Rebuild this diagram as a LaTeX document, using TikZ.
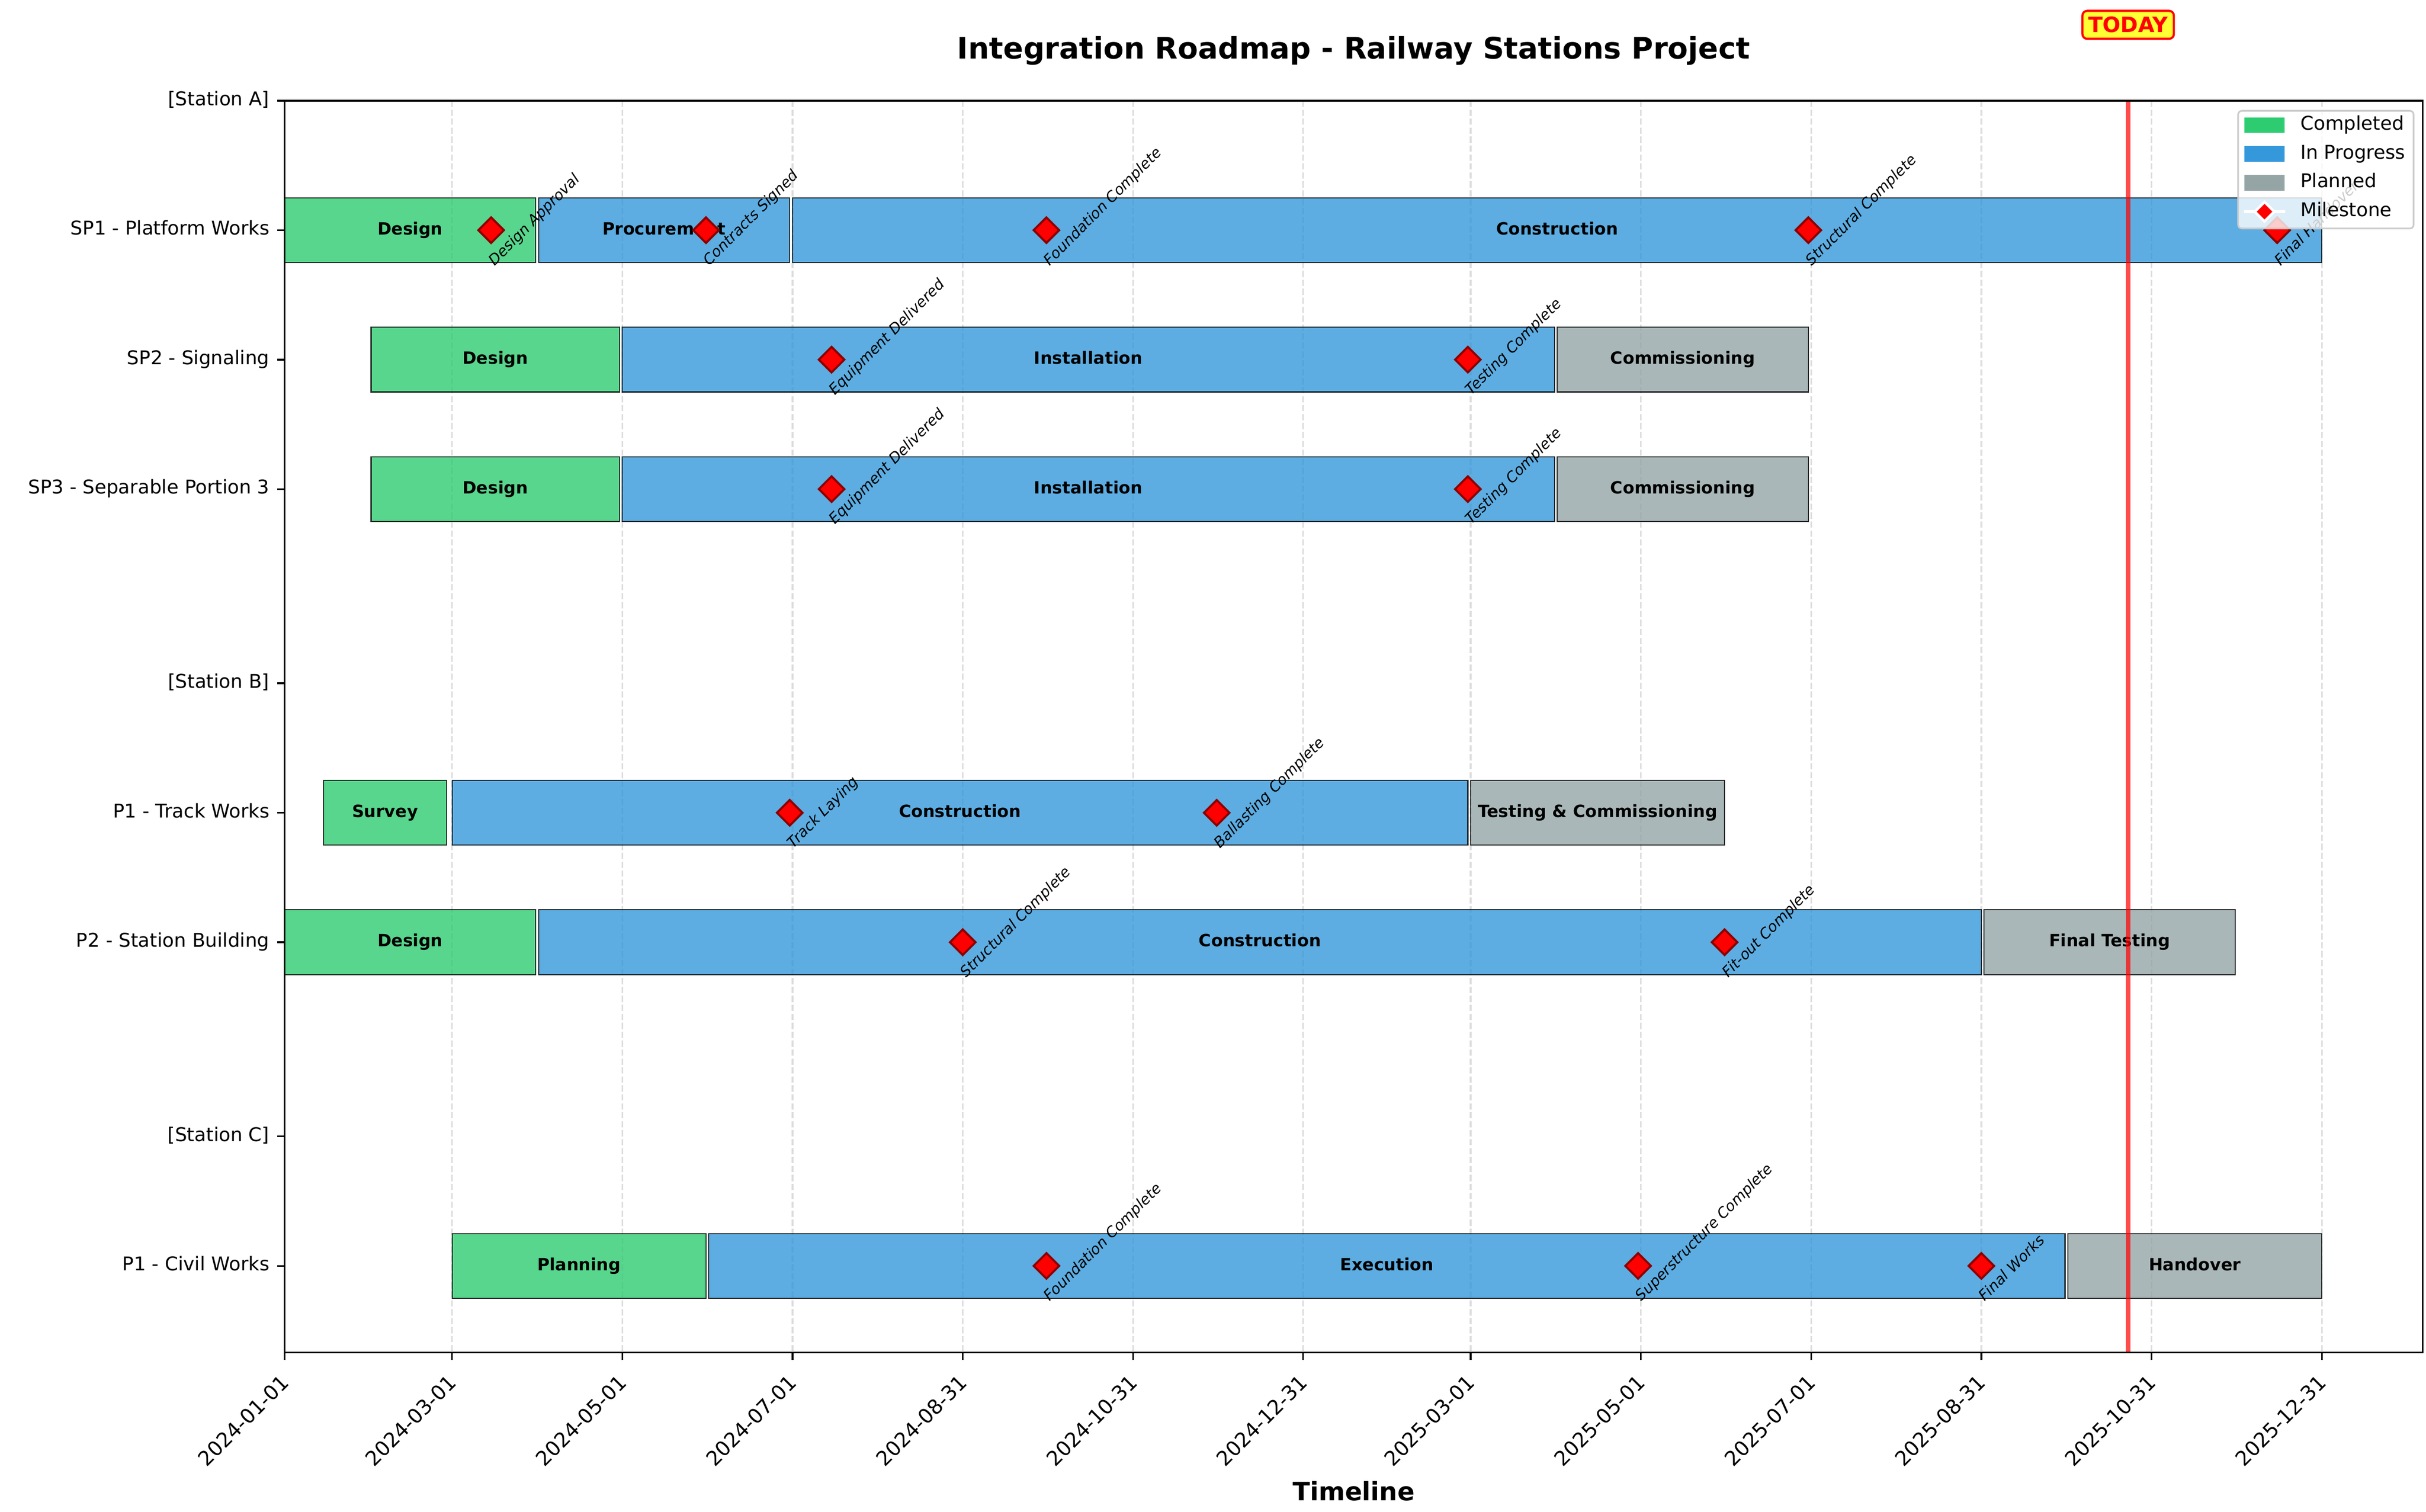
\documentclass[tikz,border=0pt]{standalone}
\usepackage{fontspec}
\setmainfont{DejaVu Sans}
\usetikzlibrary{shapes.geometric,positioning}
\definecolor{donegreen}{HTML}{2ECC71}
\definecolor{progblue}{HTML}{3498DB}
\definecolor{plangray}{HTML}{95A5A6}
\definecolor{gridgray}{HTML}{DDDDDD}
\definecolor{legendedge}{HTML}{CCCCCC}
\definecolor{msedge}{HTML}{8B0000}
\definecolor{todayfill}{HTML}{FFFF33}
\begin{document}
\begin{tikzpicture}[
            x=0.046458cm, y=-2.1553cm,
            done/.style={fill=donegreen, fill opacity=0.8, draw=black, draw opacity=0.8, line width=0.5pt},
            prog/.style={fill=progblue, fill opacity=0.8, draw=black, draw opacity=0.8, line width=0.5pt},
            plan/.style={fill=plangray, fill opacity=0.8, draw=black, draw opacity=0.8, line width=0.5pt},
            barlabel/.style={inner sep=0pt, text height=6.1pt, text depth=1.9pt, font=\bfseries\fontsize{8}{9.6}\selectfont},
            ms/.style={diamond, aspect=1, fill=red, draw=msedge, line width=1pt, inner sep=0pt, minimum width=0.44cm, minimum height=0.44cm},
            mslabel/.style={rotate=45, anchor=south west, inner sep=0pt, text depth=1.7pt, font=\itshape\fontsize{7}{8.4}\selectfont},
            ylab/.style={anchor=east, inner sep=0pt, text height=6.8pt, text depth=2.2pt, font=\fontsize{9}{10.8}\selectfont},
            xlab/.style={rotate=45, anchor=north east, inner sep=0pt, font=\fontsize{9.6}{11.5}\selectfont},
            gridline/.style={gridgray, line width=0.8pt, dash pattern=on 2.96pt off 1.28pt},
            axisline/.style={black, line width=0.8pt},
            todayline/.style={red, draw opacity=0.7, line width=2pt},
            todaybox/.style={fill=todayfill, draw=red, line width=1pt, rounded corners=0.08cm, text=red, inner sep=0.1cm, font=\bfseries\fontsize{10}{12}\selectfont},
            legendbox/.style={anchor=north east, draw=legendedge, line width=0.8pt, fill=white, fill opacity=0.8, rounded corners=0.06cm, minimum width=2.92cm, minimum height=1.957cm},
            lgpatch/.style={inner sep=0pt, minimum width=0.676cm, minimum height=0.26cm},
            lgtext/.style={inner sep=0pt, text height=6.8pt, text depth=2.2pt, font=\fontsize{9}{10.8}\selectfont},
            lgms/.style={diamond, aspect=1, fill=red, draw=white, line width=1.2pt, inner sep=0pt, minimum width=0.34cm, minimum height=0.34cm}
        ]
        \useasboundingbox (-101.98,-0.7778) rectangle (767.34,10.900);

        \foreach \d/\t [count=\i] in {0/2024-01-01, 60/2024-03-01, 121/2024-05-01, 182/2024-07-01, 243/2024-08-31, 304/2024-10-31, 365/2024-12-31, 425/2025-03-01, 486/2025-05-01, 547/2025-07-01, 608/2025-08-31, 669/2025-10-31, 730/2025-12-31} {
            \draw[gridline] (\d,0) -- (\d,9.67);
            \draw[axisline] (\d,9.67) -- ++(0pt,-3.5pt);
            \node[xlab] (xt\i) at ([xshift=-0.085cm,yshift=-0.34cm]\d,9.67) {\t};
        }

        \draw[done] (0,0.75) rectangle (90,1.25); \node[barlabel] (sp1a) at (45,1) {Design};
        \draw[prog] (91,0.75) rectangle (181,1.25); \node[barlabel] (sp1b) at (136,1) {Procurement};
        \draw[prog] (182,0.75) rectangle (730,1.25); \node[barlabel] (sp1c) at (456,1) {Construction};

        \draw[done] (31,1.75) rectangle (120,2.25); \node[barlabel] (sp2a) at (75.5,2) {Design};
        \draw[prog] (121,1.75) rectangle (455,2.25); \node[barlabel] (sp2b) at (288,2) {Installation};
        \draw[plan] (456,1.75) rectangle (546,2.25); \node[barlabel] (sp2c) at (501,2) {Commissioning};

        \draw[done] (31,2.75) rectangle (120,3.25); \node[barlabel] (sp3a) at (75.5,3) {Design};
        \draw[prog] (121,2.75) rectangle (455,3.25); \node[barlabel] (sp3b) at (288,3) {Installation};
        \draw[plan] (456,2.75) rectangle (546,3.25); \node[barlabel] (sp3c) at (501,3) {Commissioning};

        \draw[done] (14,5.25) rectangle (58,5.75); \node[barlabel] (bp1a) at (36,5.5) {Survey};
        \draw[prog] (60,5.25) rectangle (424,5.75); \node[barlabel] (bp1b) at (242,5.5) {Construction};
        \draw[plan] (425,5.25) rectangle (516,5.75); \node[barlabel] (bp1c) at (470.5,5.5) {Testing \& Commissioning};

        \draw[done] (0,6.25) rectangle (90,6.75); \node[barlabel] (bp2a) at (45,6.5) {Design};
        \draw[prog] (91,6.25) rectangle (608,6.75); \node[barlabel] (bp2b) at (349.5,6.5) {Construction};
        \draw[plan] (609,6.25) rectangle (699,6.75); \node[barlabel] (bp2c) at (654,6.5) {Final Testing};

        \draw[done] (60,8.75) rectangle (151,9.25); \node[barlabel] (cp1a) at (105.5,9) {Planning};
        \draw[prog] (152,8.75) rectangle (638,9.25); \node[barlabel] (cp1b) at (395,9) {Execution};
        \draw[plan] (639,8.75) rectangle (730,9.25); \node[barlabel] (cp1c) at (684.5,9) {Handover};

        \node[ms] (m1) at (74,1) {}; \node[mslabel] (m1t) at ([xshift=0.1cm,yshift=-0.65cm]m1.center) {Design Approval};
        \node[ms] (m2) at (151,1) {}; \node[mslabel] (m2t) at ([xshift=0.1cm,yshift=-0.65cm]m2.center) {Contracts Signed};
        \node[ms] (m3) at (273,1) {}; \node[mslabel] (m3t) at ([xshift=0.1cm,yshift=-0.65cm]m3.center) {Foundation Complete};
        \node[ms] (m4) at (546,1) {}; \node[mslabel] (m4t) at ([xshift=0.1cm,yshift=-0.65cm]m4.center) {Structural Complete};
        \node[ms] (m5) at (714,1) {}; \node[mslabel] (m5t) at ([xshift=0.1cm,yshift=-0.65cm]m5.center) {Final Handover};
        \node[ms] (m6) at (196,2) {}; \node[mslabel] (m6t) at ([xshift=0.1cm,yshift=-0.65cm]m6.center) {Equipment Delivered};
        \node[ms] (m7) at (424,2) {}; \node[mslabel] (m7t) at ([xshift=0.1cm,yshift=-0.65cm]m7.center) {Testing Complete};
        \node[ms] (m8) at (196,3) {}; \node[mslabel] (m8t) at ([xshift=0.1cm,yshift=-0.65cm]m8.center) {Equipment Delivered};
        \node[ms] (m9) at (424,3) {}; \node[mslabel] (m9t) at ([xshift=0.1cm,yshift=-0.65cm]m9.center) {Testing Complete};
        \node[ms] (m10) at (181,5.5) {}; \node[mslabel] (m10t) at ([xshift=0.1cm,yshift=-0.65cm]m10.center) {Track Laying};
        \node[ms] (m11) at (334,5.5) {}; \node[mslabel] (m11t) at ([xshift=0.1cm,yshift=-0.65cm]m11.center) {Ballasting Complete};
        \node[ms] (m12) at (243,6.5) {}; \node[mslabel] (m12t) at ([xshift=0.1cm,yshift=-0.65cm]m12.center) {Structural Complete};
        \node[ms] (m13) at (516,6.5) {}; \node[mslabel] (m13t) at ([xshift=0.1cm,yshift=-0.65cm]m13.center) {Fit-out Complete};
        \node[ms] (m14) at (273,9) {}; \node[mslabel] (m14t) at ([xshift=0.1cm,yshift=-0.65cm]m14.center) {Foundation Complete};
        \node[ms] (m15) at (485,9) {}; \node[mslabel] (m15t) at ([xshift=0.1cm,yshift=-0.65cm]m15.center) {Superstructure Complete};
        \node[ms] (m16) at (608,9) {}; \node[mslabel] (m16t) at ([xshift=0.1cm,yshift=-0.65cm]m16.center) {Final Works};

        \coordinate (todaytop) at (660.6,0);
        \coordinate (todaybot) at (660.6,9.67);
        \draw[todayline] (todaytop) -- (todaybot);
        \node[todaybox] (today) at (660.6,-0.586) {TODAY};

        \draw[axisline] (0,0) rectangle (766.2,9.67);
        \foreach \r/\t [count=\i] in {0/{[Station A]}, 1/SP1 - Platform Works, 2/SP2 - Signaling, 3/SP3 - Separable Portion 3, 4.5/{[Station B]}, 5.5/P1 - Track Works, 6.5/P2 - Station Building, 8/{[Station C]}, 9/P1 - Civil Works} {
            \draw[axisline] (0,\r) -- ++(-3.5pt,0pt);
            \node[ylab] (yt\i) at ([xshift=-7pt]0,\r) {\t};
        }

        \node[legendbox] (lg) at ([xshift=-0.14cm,yshift=-0.155cm]766.2,0) {};
        \node[lgpatch, fill=donegreen] (lg1) at ([xshift=0.452cm,yshift=-0.252cm]lg.north west) {};
        \node[lgtext, right=0.246cm of lg1] (lg1t) {Completed};
        \node[lgpatch, fill=progblue, below=0.206cm of lg1] (lg2) {};
        \node[lgtext, right=0.246cm of lg2] (lg2t) {In Progress};
        \node[lgpatch, fill=plangray, below=0.206cm of lg2] (lg3) {};
        \node[lgtext, right=0.246cm of lg3] (lg3t) {Planned};
        \node[lgpatch, below=0.206cm of lg3] (lg4) {};
        \draw[white, line width=1.6pt] (lg4.west) -- (lg4.east);
        \node[lgms] (lg4m) at (lg4.center) {};
        \node[lgtext, right=0.246cm of lg4] (lg4t) {Milestone};

        \node[anchor=base, inner sep=0pt, font=\bfseries\fontsize{14}{16.8}\selectfont] (title) at (383.1,-0.3225) {Integration Roadmap - Railway Stations Project};
        \node[anchor=base, inner sep=0pt, font=\bfseries\fontsize{12}{14.4}\selectfont] (xtitle) at (383.1,10.814) {Timeline};
    \end{tikzpicture}
\end{document}
